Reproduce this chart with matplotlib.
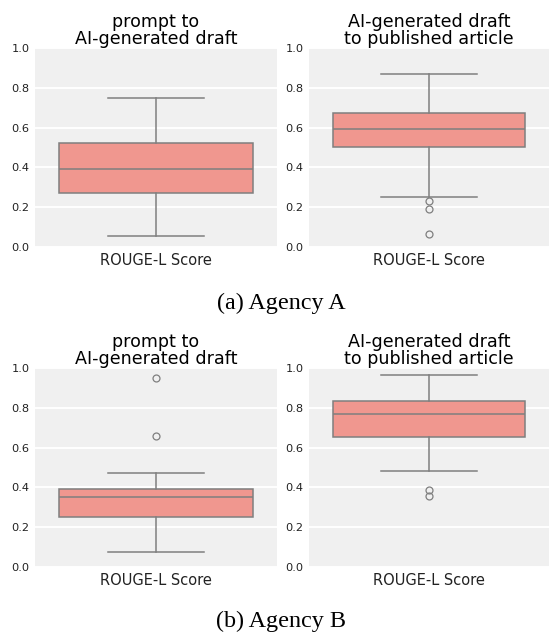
import matplotlib
matplotlib.use('Agg')
import matplotlib.pyplot as plt

# box statistics (ROUGE-L scores)
titles = ['prompt to\nAI-generated draft', 'AI-generated draft\nto published article']
captions = ['(a) Agency A', '(b) Agency B']
xlabel = 'ROUGE-L Score'
yticks = [0.0, 0.2, 0.4, 0.6, 0.8, 1.0]

# rows: agency A, agency B ; columns: prompt->draft, draft->published
q1 = [[0.271, 0.505], [0.251, 0.655]]
med = [[0.392, 0.592], [0.350, 0.769]]
q3 = [[0.522, 0.672], [0.393, 0.833]]
whislo = [[0.057, 0.253], [0.074, 0.484]]
whishi = [[0.751, 0.869], [0.474, 0.967]]
fliers = [[[], [0.231, 0.190, 0.066]], [[0.95, 0.66], [0.385, 0.357]]]

box_color = '#f0978f'
line_color = '#7f7f7f'
bg = '#f0f0f0'

fig = plt.figure(figsize=(5.49, 6.37), dpi=100)
W, H = 549.0, 637.0

# axes boxes in pixels: left, top, right, bottom
rows_px = [(48, 247), (368, 567)]
cols_px = [(35, 277), (309, 549)]
caption_y = [303, 621]

for r in range(2):
    top, bot = rows_px[r]
    for c in range(2):
        left, right = cols_px[c]
        ax = fig.add_axes([left / W, 1 - bot / H, (right - left) / W, (bot - top) / H])
        ax.set_facecolor(bg)
        stats = [{'q1': q1[r][c], 'med': med[r][c], 'q3': q3[r][c],
                  'whislo': whislo[r][c], 'whishi': whishi[r][c],
                  'fliers': fliers[r][c]}]
        ax.bxp(stats, positions=[0], widths=0.8, capwidths=0.4, patch_artist=True,
               boxprops={'facecolor': box_color, 'edgecolor': line_color, 'linewidth': 1.1},
               medianprops={'color': line_color, 'linewidth': 1.1},
               whiskerprops={'color': line_color, 'linewidth': 1.1},
               capprops={'color': line_color, 'linewidth': 1.1},
               flierprops={'marker': 'o', 'markersize': 5, 'markerfacecolor': 'none',
                           'markeredgecolor': line_color, 'markeredgewidth': 0.9})
        ax.set_xlim(-0.5, 0.5)
        ax.set_ylim(0, 1.0)
        ax.set_yticks(yticks)
        ax.set_yticklabels(['{:.1f}'.format(t) for t in yticks], fontsize=8.2, color='#222222')
        ax.set_xticks([0])
        ax.set_xticklabels([xlabel], fontsize=10.5, color='#222222')
        ax.tick_params(length=0, pad=4)
        ax.yaxis.grid(True, color='white', linewidth=1.4)
        ax.xaxis.grid(False)
        ax.set_axisbelow(True)
        for s in ax.spines.values():
            s.set_visible(False)
        ax.set_title(titles[c], fontsize=12.6, linespacing=0.95, pad=3)
    fig.text(281 / W, 1 - caption_y[r] / H, captions[r], ha='center', va='center',
             family='Liberation Serif', fontsize=17.4)

fig.savefig('out.png', dpi=100)
